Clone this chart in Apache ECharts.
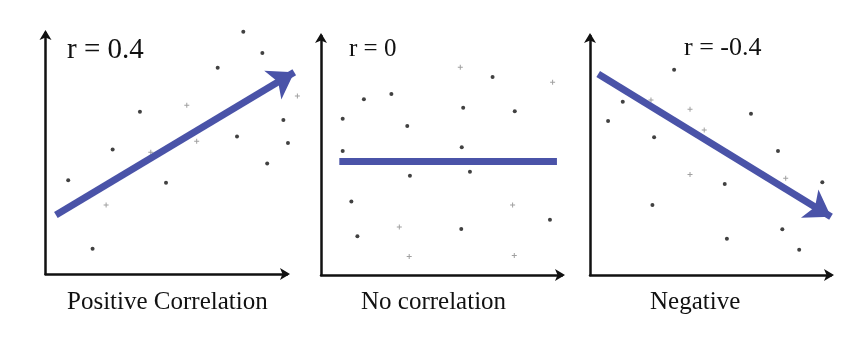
<!DOCTYPE html>
<html>
<head>
<meta charset="utf-8">
<script src="https://cdn.jsdelivr.net/npm/echarts@6/dist/echarts.min.js"></script>
<style>html,body{margin:0;padding:0;background:#fff}#c{width:863px;height:342px}</style>
</head>
<body>
<div id="c"></div>
<script>
// Panel titles and captions
var titles = ['r = 0.4', 'r = 0', 'r = -0.4'];
var captions = ['Positive Correlation', 'No correlation', 'Negative'];

// Panel 1 (positive)
var p1Dots = [[8.19,10.05],[8.98,9.17],[7.13,8.56],[3.91,6.73],[2.78,5.17],[0.94,3.89],[4.99,3.79],[7.93,5.71],[9.85,6.39],[10.04,5.44],[9.18,4.58],[1.95,1.05]];
var p1Plus = [[5.85,7.0],[6.26,5.51],[4.36,5.05],[2.51,2.86],[10.43,7.39]];
var p1Trend = [[0.43,2.45],[10.30,8.37]];

// Panel 2 (none)
var p2Dots = [[7.12,8.28],[1.78,7.35],[2.92,7.57],[0.90,6.54],[5.90,7.0],[8.04,6.85],[3.58,6.23],[0.90,5.19],[5.84,5.34],[3.69,4.15],[6.18,4.32],[1.26,3.08],[9.50,2.31],[1.51,1.62],[5.82,1.92]];
var p2Plus = [[5.78,8.69],[9.61,8.06],[7.95,2.93],[3.25,2.01],[3.66,0.77],[8.02,0.82]];
var p2Trend = [[0.76,4.76],[9.79,4.76]];

// Panel 3 (negative)
var p3Dots = [[3.49,8.59],[1.36,7.25],[0.75,6.44],[2.66,5.76],[6.68,6.75],[7.80,5.19],[5.59,3.81],[9.64,3.88],[2.59,2.93],[7.98,1.91],[5.68,1.52],[8.68,1.06]];
var p3Plus = [[2.53,7.32],[4.15,6.93],[4.74,6.07],[4.15,4.21],[8.12,4.05]];
var p3Trend = [[0.34,8.41],[10.0,2.44]];

var panels = [
  {dots:p1Dots, plus:p1Plus, trend:p1Trend, arrow:true},
  {dots:p2Dots, plus:p2Plus, trend:p2Trend, arrow:false},
  {dots:p3Dots, plus:p3Plus, trend:p3Trend, arrow:true}
];

var grids = [
  {left:45.5, top:33, width:241.5, height:241},
  {left:321, top:36, width:241, height:239},
  {left:590, top:36, width:241, height:239}
];

var axisLine = {show:true, onZero:false, symbol:['none','arrow'], symbolSize:[9,10], symbolOffset:[0,3], lineStyle:{color:'#111', width:2.5}};
var xAxes = [], yAxes = [], series = [];
var plusPath = 'path://M2,0H3V2H5V3H3V5H2V3H0V2H2Z';
var blue = '#4a53a8';

panels.forEach(function(p, i){
  xAxes.push({gridIndex:i, type:'value', min:0, max:10, axisLine:axisLine, axisTick:{show:false}, axisLabel:{show:false}, splitLine:{show:false}});
  yAxes.push({gridIndex:i, type:'value', min:0, max:10, axisLine:axisLine, axisTick:{show:false}, axisLabel:{show:false}, splitLine:{show:false}});
  series.push({type:'scatter', xAxisIndex:i, yAxisIndex:i, data:p.dots, symbol:'circle', symbolSize:4, itemStyle:{color:'#111'}, clip:false, silent:true, z:3});
  series.push({type:'scatter', xAxisIndex:i, yAxisIndex:i, data:p.plus, symbol:plusPath, symbolSize:5, itemStyle:{color:'#888'}, clip:false, silent:true, z:3});
  series.push({type:'lines', coordinateSystem:'cartesian2d', xAxisIndex:i, yAxisIndex:i,
    data:[{coords:p.trend}], symbol: p.arrow ? ['none','arrow'] : ['none','none'], symbolSize:25,
    lineStyle:{color:blue, width:7, opacity:1, cap:'butt'}, itemStyle:{color:blue}, clip:false, silent:true, z:4});
});

var titlePos = [[67,53,29],[349,52,25],[684,51,26]];
var capX = [67,361,650];
var graphics = [];
titles.forEach(function(t,i){
  graphics.push({type:'text', left:titlePos[i][0], top:titlePos[i][1]-titlePos[i][2]*0.6, style:{text:t, fill:'#111', font:titlePos[i][2]+'px "Liberation Serif", serif'}});
});
captions.forEach(function(t,i){
  graphics.push({type:'text', left:capX[i], top:305-15, style:{text:t, fill:'#111', font:'25px "Liberation Serif", serif'}});
});

var chart = echarts.init(document.getElementById('c'), null, {renderer:'canvas'});
chart.setOption({
  backgroundColor:'#fff',
  animation:false,
  grid:grids,
  xAxis:xAxes,
  yAxis:yAxes,
  series:series,
  graphic:graphics
});
</script>
</body>
</html>
